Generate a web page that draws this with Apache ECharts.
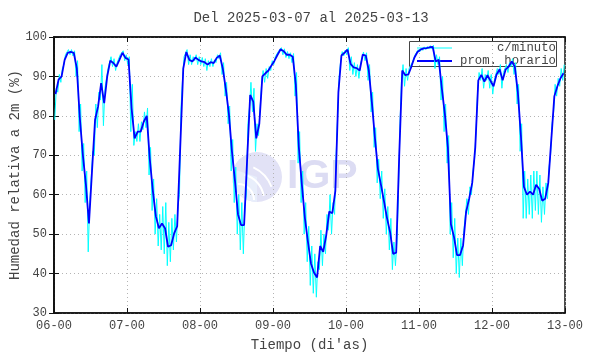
<!DOCTYPE html>
<html>
<head>
<meta charset="utf-8">
<script src="https://cdn.jsdelivr.net/npm/echarts@6/dist/echarts.min.js"></script>
<style>
  html, body { margin: 0; padding: 0; background: #fff; }
  #chart { width: 590px; height: 354px; }
</style>
</head>
<body>
<div id="chart"></div>
<script>
// tick labels on the time axis (one per day)
const dayLabels = ['06-00', '07-00', '08-00', '09-00', '10-00', '11-00', '12-00', '13-00'];

// hourly mean (prom. horario), one value per hour, 7 days
const hourly = [
  85.5, 89.2, 90, 94.2, 96, 96.2, 96, 92.1, 79.4, 70, 62.5, 52.7, 66, 79, 82.4, 88.3, 83.2, 90, 94, 93.4, 92.5, 94.2, 96, 94.7,
  94.3, 82, 74.3, 76, 76, 78.5, 80, 69, 61, 54.5, 51.5, 52.7, 51.5, 46.8, 47.2, 50.2, 52, 72, 92, 96.2, 94.2, 93.8, 94.8, 94.2,
  93.8, 93.6, 93, 93.6, 93.4, 94.7, 95.3, 92, 86.8, 80.5, 71, 63.5, 55, 52.3, 52.3, 69, 85.3, 83.6, 74.3, 78, 90, 90.8, 91.5, 92.8,
  94, 95.5, 96.9, 96.4, 95.5, 95.5, 95, 88, 72, 62.5, 54, 48, 42.5, 40.2, 39, 47, 45.5, 49.7, 55.7, 55.3, 61, 86, 95.3, 96,
  96.8, 93.2, 92.3, 92.1, 91.5, 95.5, 95.3, 91.5, 83.5, 74.5, 66.5, 62.5, 58.3, 54, 50.5, 45, 45.3, 70, 91.5, 90.3, 90.5, 92.5, 94.8, 96.2,
  96.8, 97.1, 97.2, 97.4, 97.5, 93.8, 94.2, 87, 80.5, 72, 52.5, 49.3, 44.7, 44.7, 47.2, 55.7, 59, 63, 72, 89, 90.4, 88.7, 90.3, 88.9,
  87.5, 90.5, 91.8, 89, 91.8, 92.5, 93.8, 92.5, 86, 75, 62, 60, 60.8, 60, 62.5, 61.5, 58.5, 59, 63, 74, 85, 87.5, 89.5, 90.8
];

// per-minute readings (c/minuto): lowest and highest reading in each hour
const minuteLow = [
  79, 86, 88.5, 93, 95.2, 95.5, 95.2, 90, 76, 66, 58, 45.5, 58, 70, 77, 84, 77.5, 87, 92.5, 92.5, 91.5, 93, 95, 94,
  93, 76, 72.5, 73.5, 73.5, 76.5, 77, 65, 56, 50, 47, 46, 45, 42, 43, 46, 48, 60, 89, 95, 93, 93, 94, 93,
  93, 92.5, 91.5, 92.5, 92.5, 93.5, 94.5, 90.5, 85, 78, 66, 58, 50, 46, 45, 60, 82, 81, 71, 75, 88, 88.5, 89.5, 91.5,
  93, 94.5, 96, 95.5, 94.8, 94.5, 93.5, 85, 68, 58, 50, 43, 37, 35, 34, 41, 42, 45, 51, 50, 55, 80, 94, 95.2,
  95.5, 91.5, 90.5, 90, 89.5, 94.5, 94, 89, 81, 72, 63, 59, 54, 50, 46, 41, 42, 60, 89, 87.5, 89, 91.5, 94, 95.5,
  96.2, 96.6, 96.8, 97, 97, 92, 93, 84, 76, 68, 50, 44, 40, 39, 42, 51, 55, 60, 69, 86, 89, 87, 89, 87,
  85.5, 88.5, 90.5, 87, 90.5, 91, 92.5, 90.5, 83, 71, 54, 54, 55, 54, 56, 55, 53, 55, 59, 70, 81, 85, 87.5, 89
];
const minuteHigh = [
  87, 90.5, 92, 95.5, 96.8, 96.8, 96.5, 94, 83, 73, 66, 58, 71, 83, 86, 93, 87, 92, 95, 94.5, 93.5, 95.5, 96.5, 95.5,
  95, 88, 76, 78, 78.5, 81, 82, 72, 64, 59, 55, 57, 58, 53, 54, 55, 57, 82, 95, 96.8, 95.5, 95, 95.5, 95,
  94.8, 94.5, 94, 94.5, 94.2, 95.5, 96, 93.5, 88.5, 82.5, 74, 67, 60, 58, 57, 78, 88.5, 87, 78, 82, 91.5, 92, 92.5, 94,
  95, 96.3, 97.3, 97, 96.3, 96, 95.8, 91, 76, 66, 58, 52, 47, 45, 43, 51, 50, 55, 60, 58, 70, 90, 96.3, 96.7,
  97.3, 95, 93.5, 93, 93, 96.2, 96, 93, 86, 77, 69, 66, 61.5, 57, 54, 48, 48, 78, 93, 92, 92, 93.5, 95.5, 96.8,
  97.2, 97.5, 97.6, 97.8, 97.9, 95.5, 95, 90, 83, 75, 58, 54, 49, 49, 51, 59, 62, 66, 76, 91, 92, 90.5, 91.5, 90.5,
  89, 92, 93, 91, 93, 93.5, 94.5, 93.5, 88, 78, 66, 64, 65, 66, 66, 65, 62, 63, 67, 78, 88, 89.5, 92, 93
];

const mono = "'Liberation Mono', 'DejaVu Sans Mono', monospace";
const textColor = '#444';

// hour h is plotted at h + 0.5; minute extremes at quarter hours
const hourlyData = hourly.map((v, i) => [i + 0.5, v]);
const minuteData = [];
minuteLow.forEach((lo, i) => {
  minuteData.push([i + 0.25, lo]);
  minuteData.push([i + 0.75, minuteHigh[i]]);
});

const myChart = echarts.init(document.getElementById('chart'));

const axisLine = { show: true, lineStyle: { color: '#111', width: 1.5 } };
const axisTick = { show: true, inside: true, length: 5, lineStyle: { color: '#111' } };
const gridLine = { show: true, lineStyle: { color: '#b4b4b4', type: [1, 3], width: 1 } };

const option = {
  animation: false,
  grid: {
    left: 54,
    right: 25,
    top: 37,
    bottom: 41,
    outerBoundsMode: 'none',
    containLabel: false,
    show: true,
    borderColor: '#111',
    borderWidth: 1.5,
  },
  xAxis: [
    {
      type: 'value',
      min: 0,
      max: 168,
      interval: 24,
      position: 'bottom',
      axisLine: axisLine,
      axisTick: axisTick,
      splitLine: gridLine,
      axisLabel: {
        formatter: (v) => dayLabels[Math.round(v / 24)],
        color: textColor,
        fontFamily: mono,
        fontSize: 12,
        margin: 7,
        showMinLabel: true,
        showMaxLabel: true,
      },
      name: "Tiempo (di'as)",
      nameLocation: 'middle',
      nameGap: 25,
      nameMoveOverlap: false,
      nameTextStyle: { color: textColor, fontFamily: mono, fontSize: 14 },
    },
    {
      type: 'value',
      min: 0,
      max: 168,
      interval: 24,
      position: 'top',
      axisLine: axisLine,
      axisTick: axisTick,
      axisLabel: { show: false },
      splitLine: { show: false },
    },
  ],
  yAxis: [
    {
      type: 'value',
      min: 30,
      max: 100,
      interval: 10,
      position: 'left',
      axisLine: axisLine,
      axisTick: axisTick,
      splitLine: gridLine,
      axisLabel: { color: textColor, fontFamily: mono, fontSize: 12, margin: 7 },
      name: 'Humedad relativa a 2m (%)',
      nameLocation: 'middle',
      nameGap: 32,
      nameMoveOverlap: false,
      nameTextStyle: { color: textColor, fontFamily: mono, fontSize: 14 },
    },
    {
      type: 'value',
      min: 30,
      max: 100,
      interval: 10,
      position: 'right',
      axisLine: axisLine,
      axisTick: axisTick,
      axisLabel: { show: false },
      splitLine: { show: false },
    },
  ],
  graphic: [
    // title
    {
      type: 'text',
      x: 311,
      y: 18,
      style: { text: 'Del 2025-03-07 al 2025-03-13', fill: textColor, font: '14px ' + mono, textAlign: 'center', textVerticalAlign: 'middle' },
    },
    // IGP watermark
    { type: 'circle', z: -10, shape: { cx: 257, cy: 177, r: 25 }, style: { fill: '#e2e2f6' } },
    { type: 'sector', z: -9, shape: { cx: 257, cy: 177, r: 25, r0: 0, startAngle: Math.PI * 0.5, endAngle: Math.PI * 1.1 }, style: { fill: '#e8eefb' } },
    { type: 'arc', z: -8, shape: { cx: 238, cy: 200, r: 16, startAngle: -Math.PI * 0.5, endAngle: 0 }, style: { stroke: '#fff', lineWidth: 2, fill: 'none' } },
    { type: 'arc', z: -8, shape: { cx: 238, cy: 200, r: 26, startAngle: -Math.PI * 0.42, endAngle: -Math.PI * 0.05 }, style: { stroke: '#fff', lineWidth: 2, fill: 'none' } },
    { type: 'arc', z: -8, shape: { cx: 238, cy: 200, r: 36, startAngle: -Math.PI * 0.36, endAngle: -Math.PI * 0.12 }, style: { stroke: '#fff', lineWidth: 2, fill: 'none' } },
    {
      type: 'text',
      z: -8,
      x: 287,
      y: 177,
      style: { text: 'IGP', fill: '#dcdcf3', font: 'bold 41px "Liberation Sans", Arial, sans-serif', textVerticalAlign: 'middle' },
    },
    // legend box
    { type: 'rect', z: 1, shape: { x: 409.5, y: 41.5, width: 147, height: 25 }, style: { fill: 'none', stroke: '#444', lineWidth: 1 } },
    { type: 'line', z: 1, shape: { x1: 417, y1: 48, x2: 452, y2: 48 }, style: { stroke: '#00ffff', lineWidth: 1 } },
    { type: 'line', z: 1, shape: { x1: 417, y1: 61, x2: 452, y2: 61 }, style: { stroke: '#0000ff', lineWidth: 1.8 } },
    { type: 'text', z: 1, x: 556, y: 48, style: { text: 'c/minuto', fill: textColor, font: '12.3px ' + mono, textAlign: 'right', textVerticalAlign: 'middle' } },
    { type: 'text', z: 1, x: 556, y: 61, style: { text: 'prom. horario', fill: textColor, font: '12.3px ' + mono, textAlign: 'right', textVerticalAlign: 'middle' } },
  ],
  series: [
    {
      name: 'c/minuto',
      type: 'line',
      data: minuteData,
      showSymbol: false,
      clip: true,
      lineStyle: { color: '#00ffff', width: 1 },
      itemStyle: { color: '#00ffff' },
    },
    {
      name: 'prom. horario',
      type: 'line',
      data: hourlyData,
      showSymbol: false,
      clip: true,
      lineStyle: { color: '#0000ff', width: 1.8 },
      itemStyle: { color: '#0000ff' },
    },
  ],
};

option && myChart.setOption(option);
</script>
</body>
</html>
